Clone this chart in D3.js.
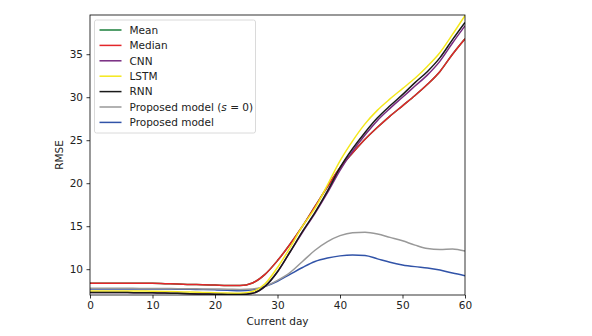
<!DOCTYPE html>
<html>
<head>
<meta charset="utf-8">
<script src="https://cdn.jsdelivr.net/npm/d3@7"></script>
<style>
  body { margin: 0; background: #fff; }
  svg { font-family: "DejaVu Sans", sans-serif; }
</style>
</head>
<body>
<div id="chart"></div>
<script>

// days sampled every 2
var days = d3.range(0, 61, 2)

var median = [8.36, 8.36, 8.36, 8.36, 8.36, 8.36, 8.32, 8.28, 8.22, 8.2, 8.15, 8.1, 8.1, 8.4, 9.4, 11.0,
  12.9, 15.0, 17.3, 19.6, 21.8, 23.5, 25.1, 26.5, 27.8, 29.0, 30.2, 31.5, 33.0, 35.0, 36.8]
var mean = median.slice()
var lstm = [7.47, 7.47, 7.47, 7.47, 7.46, 7.45, 7.42, 7.38, 7.34, 7.3, 7.27, 7.22, 7.2, 7.4, 8.3, 10.2,
  12.5, 15.0, 17.1, 19.8, 22.6, 24.9, 26.9, 28.5, 29.8, 31.0, 32.2, 33.6, 35.2, 37.3, 39.5]
var rnn = [7.3, 7.3, 7.29, 7.28, 7.27, 7.25, 7.22, 7.19, 7.15, 7.12, 7.1, 7.07, 7.05, 7.2, 8.0, 9.7,
  12.0, 14.4, 16.6, 19.1, 21.8, 24.0, 25.9, 27.6, 29.0, 30.3, 31.7, 33.0, 34.6, 36.7, 38.7]
var cnn = [7.3, 7.3, 7.29, 7.28, 7.27, 7.25, 7.22, 7.19, 7.15, 7.12, 7.1, 7.07, 7.05, 7.2, 8.0, 9.7,
  12.0, 14.3, 16.5, 18.9, 21.5, 23.7, 25.6, 27.3, 28.7, 30.0, 31.3, 32.6, 34.2, 36.3, 38.3]
var propS0 = [7.78, 7.78, 7.78, 7.78, 7.77, 7.76, 7.75, 7.74, 7.72, 7.71, 7.7, 7.68, 7.65, 7.7, 8.0, 8.7,
  9.6, 10.9, 12.2, 13.2, 13.9, 14.25, 14.3, 14.1, 13.7, 13.3, 12.8, 12.4, 12.3, 12.35, 12.1]
var proposed = [7.7, 7.7, 7.7, 7.7, 7.7, 7.7, 7.69, 7.68, 7.66, 7.64, 7.6, 7.55, 7.5, 7.6, 8.0, 8.6,
  9.4, 10.2, 10.9, 11.3, 11.55, 11.65, 11.6, 11.2, 10.8, 10.5, 10.3, 10.15, 9.9, 9.55, 9.25]

var xTicks = [0, 10, 20, 30, 40, 50, 60]
var yTicks = [10, 15, 20, 25, 30, 35]

var series = [
  {name: "Mean", values: mean, color: "#1b7f3b"},
  {name: "Median", values: median, color: "#e3262a"},
  {name: "CNN", values: cnn, color: "#772a80"},
  {name: "LSTM", values: lstm, color: "#f4e81c"},
  {name: "RNN", values: rnn, color: "#1a1a1a"},
  {name: "Proposed model (s = 0)", values: propS0, color: "#999999"},
  {name: "Proposed model", values: proposed, color: "#3153a8"}
]
// proposed lines sit under the rest in the flat part
var drawOrder = [6, 5, 0, 1, 2, 3, 4]

var width = 592, height = 336
var pLeft = 90, pRight = 465, pTop = 15, pBottom = 295
var fs = 10.5

var x = d3.scaleLinear().domain([0, 60]).range([pLeft, pRight])
var y = d3.scaleLinear().domain([7, 39.56]).range([pBottom, pTop])

var svg = d3.select("#chart").append("svg")
    .attr("width", width)
    .attr("height", height)

svg.append("defs").append("clipPath").attr("id", "clip")
  .append("rect")
    .attr("x", pLeft).attr("y", pTop)
    .attr("width", pRight - pLeft).attr("height", pBottom - pTop)

var line = d3.line()
    .x((d, i) => x(days[i]))
    .y(d => y(d))
    .curve(d3.curveMonotoneX)

svg.append("g")
    .attr("clip-path", "url(#clip)")
  .selectAll("path")
  .data(drawOrder.map(i => series[i]))
  .join("path")
    .attr("fill", "none")
    .attr("stroke", d => d.color)
    .attr("stroke-width", 1.5)
    .attr("d", d => line(d.values))

// axes
svg.append("g")
    .attr("transform", "translate(0," + pBottom + ")")
    .call(d3.axisBottom(x).tickValues(xTicks).tickSize(3.5).tickPadding(3.5))
svg.append("g")
    .attr("transform", "translate(" + pLeft + ",0)")
    .call(d3.axisLeft(y).tickValues(yTicks).tickSize(3.5).tickPadding(3.5))

svg.selectAll(".domain").remove()
svg.selectAll(".tick text")
    .attr("font-size", fs)
    .attr("font-family", "DejaVu Sans")
    .attr("fill", "#222")
svg.selectAll(".tick line").attr("stroke", "#000").attr("stroke-width", 0.8)

svg.append("rect")
    .attr("x", pLeft).attr("y", pTop)
    .attr("width", pRight - pLeft).attr("height", pBottom - pTop)
    .attr("fill", "none")
    .attr("stroke", "#000")
    .attr("stroke-width", 0.8)

svg.append("text")
    .attr("x", (pLeft + pRight) / 2)
    .attr("y", 325)
    .attr("text-anchor", "middle")
    .attr("font-size", fs)
    .attr("fill", "#222")
    .text("Current day")

svg.append("text")
    .attr("transform", "translate(63," + ((pTop + pBottom) / 2) + ") rotate(-90)")
    .attr("text-anchor", "middle")
    .attr("font-size", fs)
    .attr("fill", "#222")
    .text("RMSE")

// legend
var legend = svg.append("g").attr("transform", "translate(94.5,20)")

legend.append("rect")
    .attr("x", 0).attr("y", 0)
    .attr("width", 161).attr("height", 113)
    .attr("rx", 2)
    .attr("fill", "#fff")
    .attr("fill-opacity", 0.8)
    .attr("stroke", "#d0d0d0")
    .attr("stroke-width", 0.8)

var items = legend.selectAll("g.item")
  .data(series)
  .join("g")
    .attr("class", "item")
    .attr("transform", (d, i) => "translate(0," + (10 + i * 15.4) + ")")

items.append("line")
    .attr("x1", 5).attr("x2", 27)
    .attr("y1", 0).attr("y2", 0)
    .attr("stroke", d => d.color)
    .attr("stroke-width", 1.5)

var labels = items.append("text")
    .attr("x", 35)
    .attr("y", 3.8)
    .attr("font-size", fs)
    .attr("fill", "#222")

labels.each(function(d) {
  var t = d3.select(this)
  if (d.name === "Proposed model (s = 0)") {
    t.append("tspan").text("Proposed model (")
    t.append("tspan").attr("font-style", "italic").text("s")
    t.append("tspan").text(" = 0)")
  } else {
    t.text(d.name)
  }
})

</script>
</body>
</html>
